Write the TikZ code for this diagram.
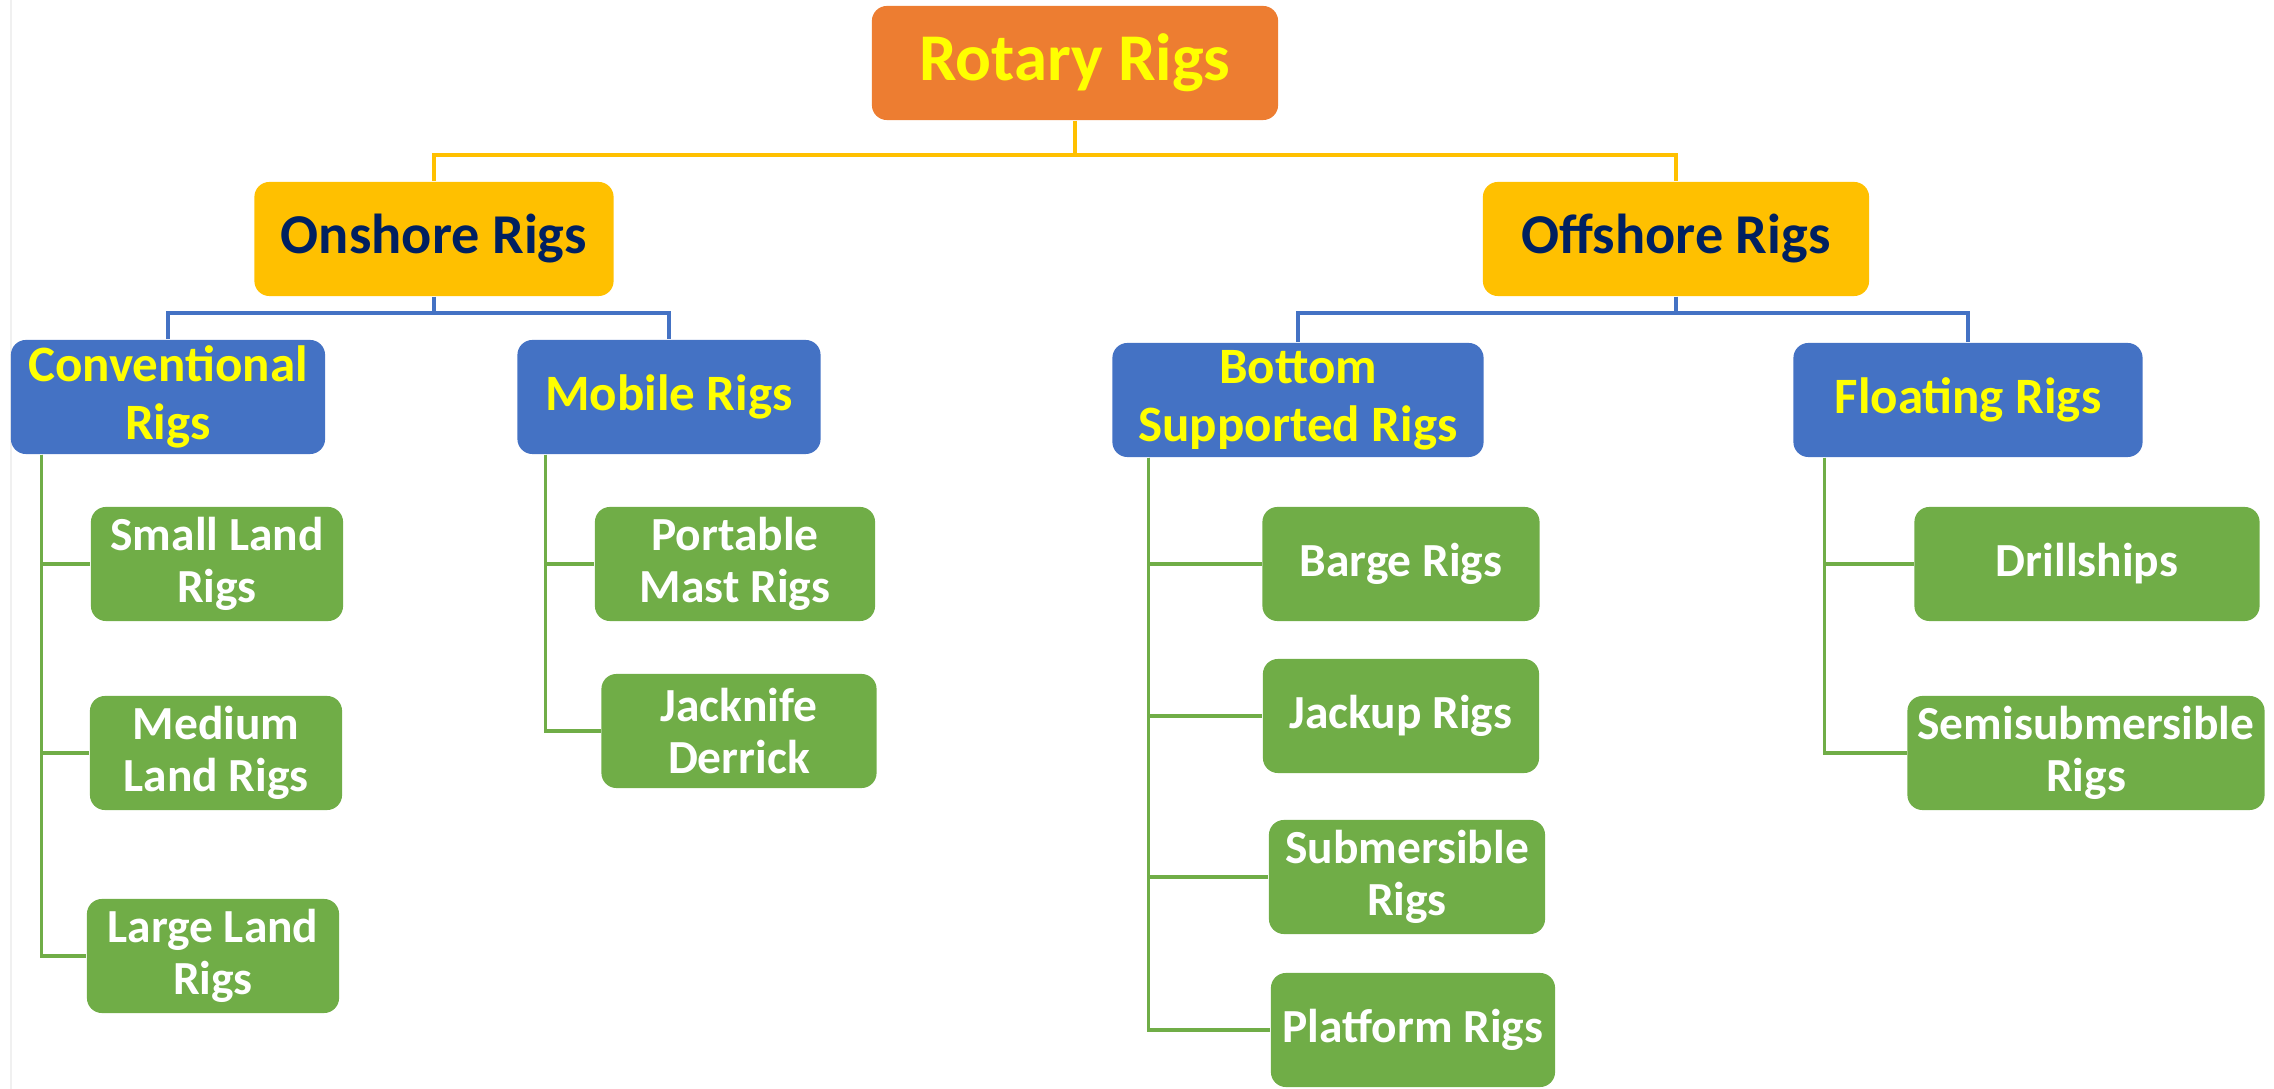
\documentclass[tikz,border=0pt]{standalone}
\usepackage{fontspec}
\setmainfont{Carlito}
\usetikzlibrary{calc}
\definecolor{rigorange}{HTML}{ED7D31}
\definecolor{riggold}{HTML}{FFC000}
\definecolor{rignavy}{HTML}{002060}
\definecolor{rigblue}{HTML}{4472C4}
\definecolor{riggreen}{HTML}{70AD47}
\definecolor{rigyellow}{HTML}{FFFF00}
\tikzset{
	box/.style={rounded corners=0.15cm, align=center, inner sep=0pt, minimum height=1.14cm},
	rootbox/.style={box, fill=rigorange, text=rigyellow, font=\bfseries\fontsize{19}{22}\selectfont},
	landbox/.style={box, fill=riggold, text=rignavy, font=\bfseries\fontsize{16}{19}\selectfont},
	typebox/.style={box, fill=rigblue, text=rigyellow, font=\bfseries\fontsize{14.5}{16.5}\selectfont},
	rigbox/.style={box, fill=riggreen, text=white, font=\bfseries\fontsize{13.5}{15}\selectfont},
	goldline/.style={draw=riggold, line width=0.9pt},
	blueline/.style={draw=rigblue, line width=0.9pt},
	greenline/.style={draw=riggreen, line width=0.9pt}
}

\begin{document}
\begin{tikzpicture}[x=0.01cm, y=-0.01cm]
			%%%%% START %%%%%
			\useasboundingbox (0, 0) rectangle (2274, 1089);
			\draw[gray!12, line width=0.6pt] (11, 0) -- (11, 1089);
			
			\node[rootbox, minimum width=4.06cm] (rotary) at (1075, 63) {Rotary Rigs};
			
			\node[landbox, minimum width=3.59cm] (onshore) at (434, 239) {Onshore Rigs};
			\node[landbox, minimum width=3.86cm] (offshore) at (1676, 239) {Offshore Rigs};
			
			\node[typebox, minimum width=3.14cm] (conv) at (168, 397) {Conventional\\Rigs};
			\node[typebox, minimum width=3.03cm] (mobile) at (669, 397) {Mobile Rigs};
			\node[typebox, minimum width=3.71cm] (bottom) at (1298, 400) {Bottom\\Supported Rigs};
			\node[typebox, minimum width=3.49cm] (floating) at (1968, 400) {Floating Rigs};
			
			\node[rigbox, minimum width=2.52cm] (small) at (217, 564) {Small Land\\Rigs};
			\node[rigbox, minimum width=2.52cm] (medium) at (216, 753) {Medium\\Land Rigs};
			\node[rigbox, minimum width=2.52cm] (large) at (213, 956) {Large Land\\Rigs};
			
			\node[rigbox, minimum width=2.80cm] (portable) at (735, 564) {Portable\\Mast Rigs};
			\node[rigbox, minimum width=2.75cm] (jacknife) at (739, 731) {Jacknife\\Derrick};
			
			\node[rigbox, minimum width=2.77cm] (barge) at (1401, 564) {Barge Rigs};
			\node[rigbox, minimum width=2.76cm] (jackup) at (1401, 716) {Jackup Rigs};
			\node[rigbox, minimum width=2.76cm] (submersible) at (1407, 877) {Submersible\\Rigs};
			\node[rigbox, minimum width=2.84cm] (platform) at (1413, 1030) {Platform Rigs};
			
			\node[rigbox, minimum width=3.45cm] (drillships) at (2087, 564) {Drillships};
			\node[rigbox, minimum width=3.57cm] (semisub) at (2086, 753) {Semisubmersible\\Rigs};
			
			% top level
			\coordinate (topbus) at (1075, 155);
			\draw[goldline] (rotary.south) -- (topbus) -| (onshore.north);
			\draw[goldline] (topbus) -| (offshore.north);
			
			% second level
			\coordinate (onbus) at (434, 313);
			\coordinate (offbus) at (1676, 313);
			\draw[blueline] (onshore.south) -- (onbus) -| (conv.north);
			\draw[blueline] (onbus) -| (mobile.north);
			\draw[blueline] (offshore.south) -- (offbus) -| (bottom.north);
			\draw[blueline] (offbus) -| (floating.north);
			
			% rig types
			\coordinate (convtrunk) at ([xshift=0.31cm]conv.south west);
			\coordinate (mobiletrunk) at ([xshift=0.29cm]mobile.south west);
			\coordinate (bottomtrunk) at ([xshift=0.37cm]bottom.south west);
			\coordinate (floattrunk) at ([xshift=0.32cm]floating.south west);
			
			\draw[greenline] (convtrunk) |- (small.west);
			\draw[greenline] (convtrunk) |- (medium.west);
			\draw[greenline] (convtrunk) |- (large.west);
			
			\draw[greenline] (mobiletrunk) |- (portable.west);
			\draw[greenline] (mobiletrunk) |- (jacknife.west);
			
			\draw[greenline] (bottomtrunk) |- (barge.west);
			\draw[greenline] (bottomtrunk) |- (jackup.west);
			\draw[greenline] (bottomtrunk) |- (submersible.west);
			\draw[greenline] (bottomtrunk) |- (platform.west);
			
			\draw[greenline] (floattrunk) |- (drillships.west);
			\draw[greenline] (floattrunk) |- (semisub.west);
			%%%%% END %%%%%
\end{tikzpicture}
\end{document}
